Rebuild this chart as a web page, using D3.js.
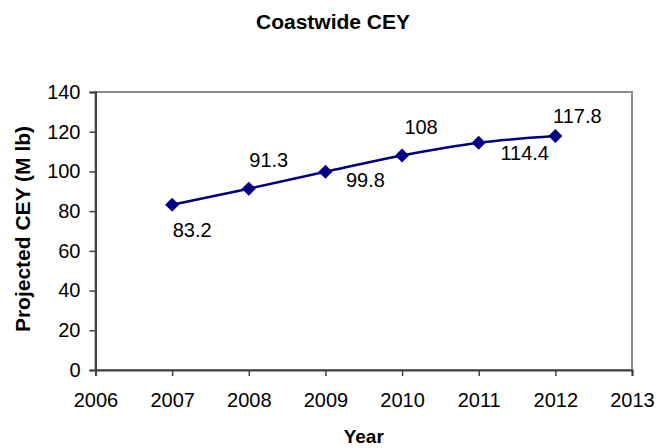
<!DOCTYPE html>
<html><head><meta charset="utf-8">
<script src="https://cdn.jsdelivr.net/npm/d3@7"></script>
<style>body{margin:0;background:#fff}svg{display:block}text{font-family:Arial,"Liberation Sans",sans-serif}</style>
</head><body><svg id="c" width="656" height="448"></svg>
<script>
const years = [2007, 2008, 2009, 2010, 2011, 2012];
const cey = [83.2, 91.3, 99.8, 108, 114.4, 117.8];
const xTicks = [2006, 2007, 2008, 2009, 2010, 2011, 2012, 2013];
const yTicks = [0, 20, 40, 60, 80, 100, 120, 140];
const labelOffsets = [[20,25],[20,-29],[40,8],[19,-29],[46,10],[22,-20]];

const svg = d3.select("#c");
const L=95.5, R=632, T=92, B=370;
const x = d3.scaleLinear().domain([2006,2013]).range([L,R]);
const y = d3.scaleLinear().domain([0,140]).range([B,T]);

svg.append("rect").attr("x",L).attr("y",T).attr("width",R-L).attr("height",B-T)
  .attr("fill","none").attr("stroke","#8c8c8c").attr("stroke-width",2);

const ya = svg.append("g").attr("transform",`translate(${L},0)`)
  .call(d3.axisLeft(y).tickValues(yTicks).tickSize(6).tickPadding(9).tickFormat(d3.format("d")));
const xa = svg.append("g").attr("transform",`translate(0,${B})`)
  .call(d3.axisBottom(x).tickValues(xTicks).tickSize(6).tickPadding(17).tickFormat(d3.format("d")));
[ya,xa].forEach(a=>{
  a.selectAll("path").attr("stroke","#404040").attr("stroke-width",2);
  a.selectAll("line").attr("stroke","#404040").attr("stroke-width",1.5);
  a.selectAll("text").attr("font-size",20).attr("fill","#000").attr("font-family","Arial, 'Liberation Sans', sans-serif");
});

const data = years.map((d,i)=>({year:d,v:cey[i]}));
svg.append("path").datum(data)
  .attr("d", d3.line().x(d=>x(d.year)).y(d=>y(d.v)).curve(d3.curveCatmullRom.alpha(0.5)))
  .attr("fill","none").attr("stroke","#000080").attr("stroke-width",2.5);

svg.selectAll(".m").data(data).enter().append("path")
  .attr("transform",d=>`translate(${x(d.year)},${y(d.v)})`)
  .attr("d", d3.symbol().type(d3.symbolDiamond2).size(125))
  .attr("fill","#000080");

svg.selectAll(".lab").data(data).enter().append("text")
  .attr("x",(d,i)=>x(d.year)+labelOffsets[i][0])
  .attr("y",(d,i)=>y(d.v)+labelOffsets[i][1])
  .attr("text-anchor","middle").attr("dominant-baseline","central")
  .attr("font-size",20).text(d=>d.v);

svg.append("text").attr("x",333).attr("y",21).attr("text-anchor","middle")
  .attr("dominant-baseline","central").attr("font-weight","bold").attr("font-size",21).text("Coastwide CEY");
svg.append("text").attr("x",(L+R)/2).attr("y",443).attr("text-anchor","middle")
  .attr("font-weight","bold").attr("font-size",19).text("Year");
svg.append("text").attr("transform",`translate(22,229) rotate(-90)`).attr("text-anchor","middle")
  .attr("dominant-baseline","central").attr("font-weight","bold").attr("font-size",21).text("Projected CEY (M lb)");
</script></body></html>
